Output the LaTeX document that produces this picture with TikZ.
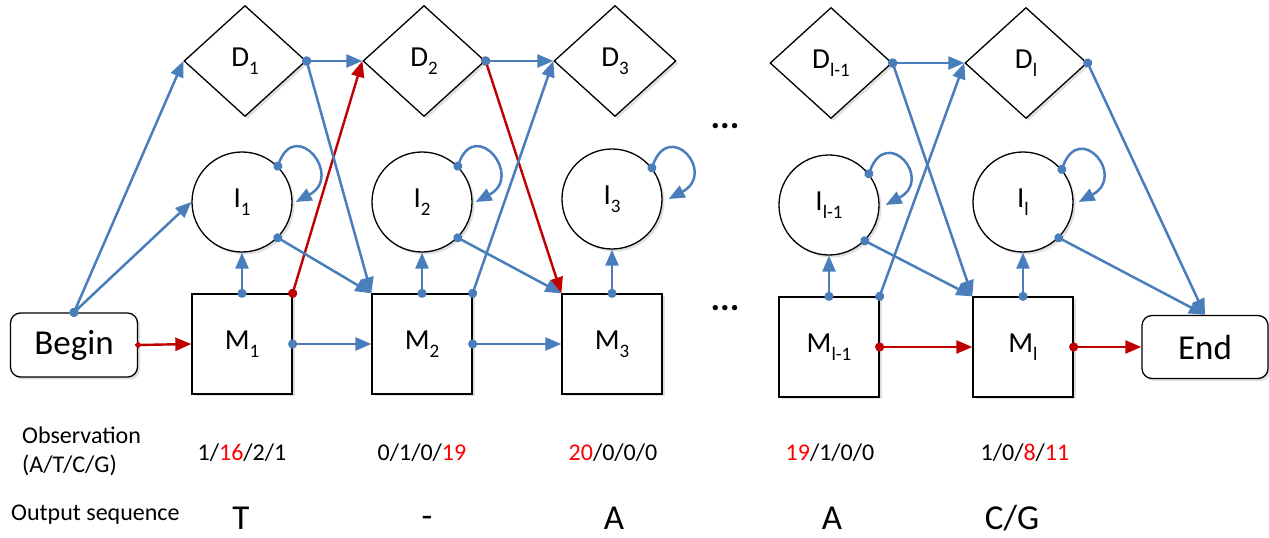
\documentclass[tikz,border=0pt]{standalone}
\usepackage{fontspec}
\setmainfont{Carlito}
\usetikzlibrary{shapes.geometric,arrows.meta,shadows}
\definecolor{lblue}{RGB}{74,126,187}
\definecolor{lred}{RGB}{192,0,0}
\definecolor{nred}{RGB}{255,0,0}
\newcommand{\sbx}[1]{\raisebox{-0.27em}{\fontsize{19}{19}\selectfont #1}}
\newcommand{\rn}[1]{\textcolor{nred}{#1}}
\begin{document}
\begin{tikzpicture}[x=1pt,y=1pt,
  shp/.style={draw=black, line width=1.3pt, fill=white,
    drop shadow={shadow xshift=2.5pt, shadow yshift=-2.5pt, opacity=0.25},
    font=\fontsize{29}{29}\selectfont, inner sep=0pt},
  dnode/.style={shp, diamond, minimum width=122pt, minimum height=111pt},
  inode/.style={shp, circle, minimum size=100pt},
  mnode/.style={shp, rectangle, minimum size=100pt},
  term/.style={shp, rectangle, rounded corners=10pt, minimum width=127pt,
    minimum height=64pt, font=\fontsize{35}{35}\selectfont},
  bl/.style={draw=lblue, line width=2.5pt, shorten <=-4.5pt,
    {Circle[length=9pt]}-{Triangle[length=16pt,width=13pt]}},
  rd/.style={draw=lred, line width=2.4pt, shorten <=-4.5pt,
    {Circle[length=9pt]}-{Triangle[length=16pt,width=13pt]}},
  rds/.style={draw=lred, line width=2.4pt, shorten <=-3pt,
    {Circle[length=6pt]}-{Triangle[length=16pt,width=13pt]}},
  lbl/.style={font=\fontsize{24}{29}\selectfont, inner sep=0pt},
  big/.style={font=\fontsize{35}{35}\selectfont, inner sep=0pt},
  dots/.style={font=\fontsize{36}{36}\selectfont\bfseries, inner sep=0pt}
]
\useasboundingbox (0,0) rectangle (1269,538);

% nodes
\node[dnode] (D1) at (245,477) {D\sbx{1}};
\node[dnode] (D2) at (424,477) {D\sbx{2}};
\node[dnode] (D3) at (615,477) {D\sbx{3}};
\node[dnode] (Dk) at (831,475) {D\sbx{l-1}};
\node[dnode] (Dl) at (1026,475) {D\sbx{l}};

\node[inode] (I1) at (242,336) {I\sbx{1}};
\node[inode] (I2) at (422,336) {I\sbx{2}};
\node[inode] (I3) at (612,339) {I\sbx{3}};
\node[inode] (Ik) at (829,333) {I\sbx{l-1}};
\node[inode] (Il) at (1023,336) {I\sbx{l}};

\node[mnode] (M1) at (242,194) {M\sbx{1}};
\node[mnode] (M2) at (422,194) {M\sbx{2}};
\node[mnode] (M3) at (612,194) {M\sbx{3}};
\node[mnode] (Mk) at (829,191) {M\sbx{l-1}};
\node[mnode] (Ml) at (1023,191) {M\sbx{l}};

\node[term] (B) at (74,193) {Begin};
\node[term, minimum width=126pt, minimum height=63pt] (E) at (1205,191) {End};

\node[dots] (dt1) at (725,412) {...};
\node[dots] (dt2) at (725,230) {...};

% text rows
\node[lbl, anchor=west, align=left] (obs) at (22,87) {Observation\\(A/T/C/G)};
\node[lbl] (o1) at (242,85) {1/\rn{16}/2/1};
\node[lbl] (o2) at (422,85) {0/1/0/\rn{19}};
\node[lbl] (o3) at (613,85) {\rn{20}/0/0/0};
\node[lbl] (o4) at (830,85) {\rn{19}/1/0/0};
\node[lbl] (o5) at (1025,85) {1/0/\rn{8}/\rn{11}};

\node[lbl, anchor=west] (outs) at (11,23) {Output sequence};
\node[big] (s1) at (241,20) {T};
\node[big] (s2) at (427,16) {-};
\node[big] (s3) at (614,20) {A};
\node[big] (s4) at (832,20) {A};
\node[big] (s5) at (1012,20) {C/G};

% red connectors
\draw[rds] (B.east) -- (M1.west);
\draw[rd] (M1.north east) -- (D2.west);
\draw[rd] (D2.east) -- (M3.north west);
\draw[rd] (Mk.east) -- (Ml.west);
\draw[rd] (Ml.east) -- (E.west);

% blue connectors
\draw[bl] (B.north) -- (D1.west);
\draw[bl] (B.north) -- (I1.west);
\draw[bl] (M1.north) -- (I1.south);
\draw[bl] (M1.east) -- (M2.west);
\draw[bl] (D1.east) -- (D2.west);
\draw[bl] (D1.east) -- (M2.north west);
\draw[bl] (I1.-45) -- (M2.north west);

\draw[bl] (M2.north) -- (I2.south);
\draw[bl] (M2.east) -- (M3.west);
\draw[bl] (M2.north east) -- (D3.west);
\draw[bl] (D2.east) -- (D3.west);
\draw[bl] (I2.-45) -- (M3.north west);

\draw[bl] (M3.north) -- (I3.south);

\draw[bl] (Mk.north) -- (Ik.south);
\draw[bl] (Mk.north east) -- (Dl.west);
\draw[bl] (Dk.east) -- (Dl.west);
\draw[bl] (Dk.east) -- (Ml.north west);
\draw[bl] (Ik.-45) -- (Ml.north west);

\draw[bl] (Ml.north) -- (Il.south);
\draw[bl] (Dl.east) -- (E.north);
\draw[bl] (Il.-45) -- (E.north);

% self loops
\draw[bl] (I1.45) .. controls +(70:52) and +(28:55) .. ([xshift=3pt]I1.east);
\draw[bl] (I2.45) .. controls +(70:52) and +(28:55) .. ([xshift=3pt]I2.east);
\draw[bl] (I3.38) .. controls +(70:52) and +(28:55) .. ([xshift=6pt]I3.east);
\draw[bl] (Ik.38) .. controls +(70:52) and +(28:55) .. ([xshift=6pt]Ik.east);
\draw[bl] (Il.40) .. controls +(70:52) and +(28:55) .. ([xshift=5pt]Il.east);
\end{tikzpicture}
\end{document}
